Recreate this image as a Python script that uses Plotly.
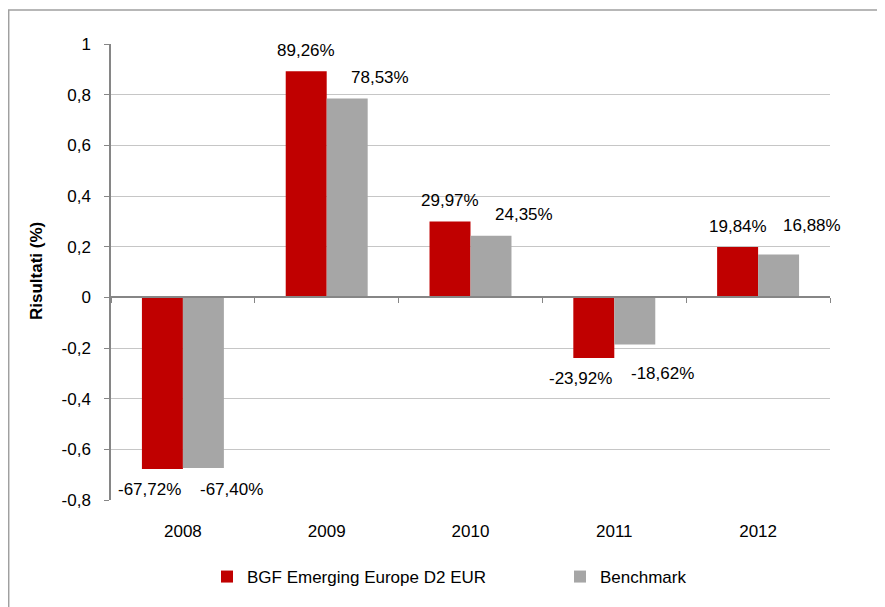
import plotly.graph_objects as go

# ---- data ----
years = ["2008", "2009", "2010", "2011", "2012"]
fund_name = "BGF Emerging Europe D2 EUR"
bench_name = "Benchmark"
fund_values = [-0.6772, 0.8926, 0.2997, -0.2392, 0.1984]
bench_values = [-0.6740, 0.7853, 0.2435, -0.1862, 0.1688]
y_tick_vals = [-0.8, -0.6, -0.4, -0.2, 0, 0.2, 0.4, 0.6, 0.8, 1]
y_tick_text = ["-0,8", "-0,6", "-0,4", "-0,2", "0", "0,2", "0,4", "0,6", "0,8", "1"]
y_title = "Risultati (%)"

RED = "#C00000"
GREY = "#A6A6A6"
FONT = "Liberation Sans, Arial, sans-serif"
FS = 17

OFF = 8  # default page body margin
W, H = 885 - OFF, 607 - OFF
ML, MR, MT, MB = 111 - OFF, 55, 44 - OFF, 107
PW, PH = W - ML - MR, H - MT - MB


def px_x(p):
    """page x pixel -> paper fraction"""
    return (p - OFF - ML) / PW


def px_y(p):
    """page y pixel -> paper fraction"""
    return (H - MB - (p - OFF)) / PH


def pct(v):
    return f"{v * 100:.2f}%".replace(".", ",")


fig = go.Figure()
fig.add_trace(go.Bar(x=years, y=fund_values, name=fund_name,
                     marker=dict(color=RED, line=dict(width=0))))
fig.add_trace(go.Bar(x=years, y=bench_values, name=bench_name,
                     marker=dict(color=GREY, line=dict(width=0))))

cat_px = PW / len(years)
bargap = 0.43
bar_px = cat_px * (1 - bargap) / 2

annotations = []
for i, v in enumerate(fund_values):
    annotations.append(dict(
        x=i, y=v, xref="x", yref="y", text=pct(v), showarrow=False,
        xshift=-bar_px / 2 + (0 if v >= 0 else -13),
        yshift=21 if v >= 0 else -21,
        font=dict(family=FONT, size=FS, color="#000000")))
for i, v in enumerate(bench_values):
    annotations.append(dict(
        x=i, y=v, xref="x", yref="y", text=pct(v), showarrow=False,
        xshift=bar_px / 2 + (33 if v >= 0 else 28),
        yshift=(21 if v >= 0 else -21) + (1 if v >= 0 else -1) * (8 if abs(v) < 0.2 else 0),
        font=dict(family=FONT, size=FS, color="#000000")))

annotations.append(dict(
    x=px_x(36), y=px_y(271), xref="paper", yref="paper", text="<b>" + y_title + "</b>",
    textangle=-90, showarrow=False, xanchor="center", yanchor="middle",
    font=dict(family=FONT, size=17, color="#000000")))

fig.update_layout(
    width=W, height=H,
    margin=dict(l=ML, r=MR, t=MT, b=MB, autoexpand=False),
    paper_bgcolor="white", plot_bgcolor="white",
    barmode="group", bargap=bargap, bargroupgap=0,
    font=dict(family=FONT, size=FS, color="#000000"),
    showlegend=True,
    legend=dict(orientation="h", x=px_x(207), xanchor="left",
                y=px_y(577), yanchor="middle",
                font=dict(family=FONT, size=FS, color="#000000"),
                entrywidth=308, entrywidthmode="pixels",
                bgcolor="rgba(0,0,0,0)", borderwidth=0),
    annotations=annotations,
    shapes=[dict(type="rect", xref="paper", yref="paper",
                 x0=px_x(8.7), x1=px_x(920), y0=px_y(640), y1=px_y(10),
                 line=dict(color="#A0A0A0", width=1.5), fillcolor="rgba(0,0,0,0)",
                 layer="below")],
    xaxis=dict(type="category", categoryorder="array", categoryarray=years,
               range=[-0.5, len(years) - 0.5], autorange=False,
               showgrid=False, showline=False, ticks="", zeroline=False,
               ticklabelstandoff=19,
               tickfont=dict(family=FONT, size=FS, color="#000000")),
    xaxis2=dict(overlaying="x", anchor="free", position=0.8 / 1.8,
                range=[0, len(years)], autorange=False,
                tickvals=list(range(len(years) + 1)),
                showticklabels=False, ticks="outside", ticklen=5,
                tickcolor="#868686", tickwidth=1.3,
                showline=True, linecolor="#868686", linewidth=1.5,
                showgrid=False, zeroline=False),
    yaxis=dict(range=[-0.8, 1], autorange=False,
               tickvals=y_tick_vals, ticktext=y_tick_text,
               showgrid=True, gridcolor="#C6C6C6", gridwidth=1.3,
               zeroline=False, showline=True, linecolor="#868686", linewidth=1.5,
               ticks="outside", ticklen=5, tickcolor="#868686", tickwidth=1.3,
               ticklabelstandoff=10,
               tickfont=dict(family=FONT, size=FS, color="#000000")),
)

# invisible trace so that xaxis2 is drawn
fig.add_trace(go.Scatter(x=[0, len(years)], y=[0, 0], xaxis="x2", yaxis="y",
                         mode="lines", line=dict(width=0), hoverinfo="skip",
                         showlegend=False))

fig.write_html("out.html")
